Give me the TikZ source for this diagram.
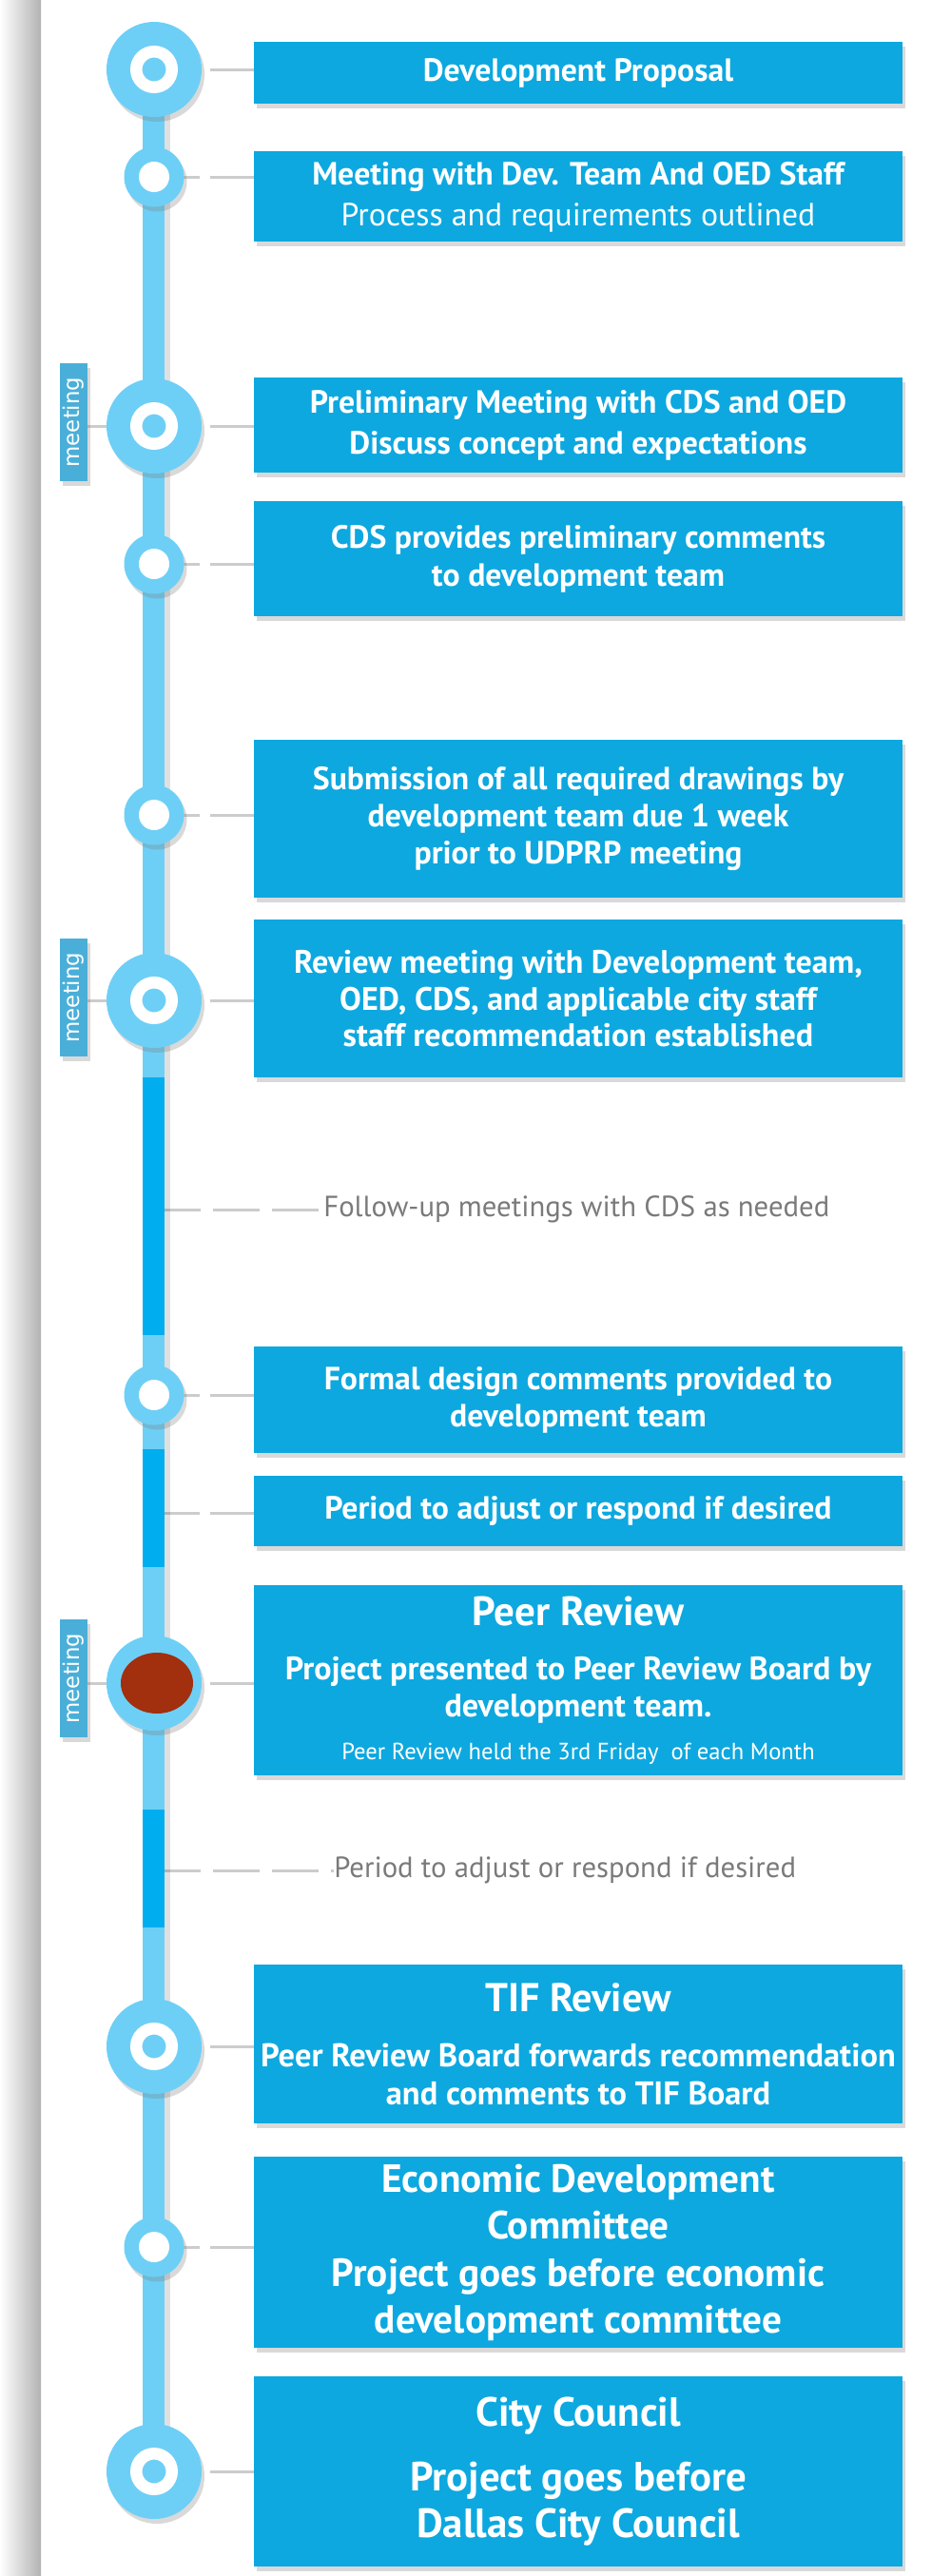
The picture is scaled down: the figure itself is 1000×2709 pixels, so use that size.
\documentclass[tikz,border=0pt]{standalone}
\usepackage{fontspec}
\setmainfont{PT Sans}
\newfontfamily\tagfont{DejaVu Sans}
\usetikzlibrary{positioning,shadows,backgrounds}

\definecolor{lineblue}{HTML}{6DCFF6}
\definecolor{pauseblue}{HTML}{00AEEF}
\definecolor{boxblue}{HTML}{0DA8DF}
\definecolor{tagblue}{HTML}{4AAFD8}
\definecolor{linkgray}{HTML}{CCCCCC}
\definecolor{notegray}{HTML}{7A7A7A}
\definecolor{peerred}{HTML}{A22F0E}

\newdimen\px \px=0.2mm

\begin{document}
\begin{tikzpicture}[
    x=0.2mm, y=-0.2mm,
    softshadow/.style={drop shadow={shadow xshift=3\px, shadow yshift=-5\px, opacity=.3}},
    bigstop/.style={circle, fill=lineblue, minimum size=100\px, inner sep=0pt, softshadow,
        path picture={\draw[white, line width=12.5\px] (path picture bounding box.center) circle[radius=18.75\px];}},
    smallstop/.style={circle, fill=lineblue, minimum size=63\px, inner sep=0pt, softshadow,
        path picture={\fill[white] (path picture bounding box.center) circle[radius=16\px];}},
    peerstop/.style={circle, fill=lineblue, minimum size=100\px, inner sep=0pt, softshadow,
        path picture={\fill[peerred] ([xshift=3\px]path picture bounding box.center) ellipse[x radius=38\px, y radius=32\px];}},
    stepbox/.style={fill=boxblue, text=white, align=center, anchor=north, minimum width=682\px,
        inner sep=0pt, font=\bfseries\fontsize{19.2}{23}\selectfont, softshadow},
    tag/.style={fill=tagblue, text=white, rotate=90, minimum width=124\px, minimum height=29\px,
        inner sep=0pt, font=\tagfont\fontsize{13}{13}\selectfont, softshadow},
    link/.style={draw=linkgray, line width=3\px, dash pattern=on 48\px off 11\px},
    leader/.style={draw=linkgray, line width=3\px, dash pattern=on 49\px off 13\px},
    note/.style={anchor=west, inner sep=0pt, text=notegray, font=\fontsize{17.5}{17.5}\selectfont},
]
    \useasboundingbox (0,0) rectangle (1000,2709);

    % Stops on the timeline
    \node[bigstop] (c1) at (162,73) {};
    \node[smallstop] (c2) at (162,186) {};
    \node[bigstop] (c3) at (162,448) {};
    \node[smallstop] (c4) at (162,593) {};
    \node[smallstop] (c5) at (162,857) {};
    \node[bigstop] (c6) at (162,1052) {};
    \node[smallstop] (c7) at (162,1467) {};
    \coordinate (c8) at (162,1591);
    \node[peerstop] (c9) at (162,1770) {};
    \node[bigstop] (c10) at (162,2152) {};
    \node[smallstop] (c11) at (162,2363) {};
    \node[bigstop] (c12) at (162,2599) {};

    % Steps
    \node[stepbox, minimum height=65\px] (b1) at (608,44) {Development Proposal};
    \node[stepbox, minimum height=95\px, font=\bfseries\fontsize{19.2}{24.5}\selectfont] (b2) at (608,159)
        {Meeting with Dev. Team And OED Staff\\{\mdseries Process and requirements outlined}};
    \node[stepbox, minimum height=100\px, font=\bfseries\fontsize{19.2}{24.5}\selectfont] (b3) at (608,397)
        {Preliminary Meeting with CDS and OED\\Discuss concept and expectations};
    \node[stepbox, minimum height=121\px] (b4) at (608,527)
        {CDS provides preliminary comments\\to development team};
    \node[stepbox, minimum height=166\px, font=\bfseries\fontsize{19.2}{22.2}\selectfont] (b5) at (608,778)
        {Submission of all required drawings by\\development team due 1 week\\prior to UDPRP meeting};
    \node[stepbox, minimum height=166\px, font=\bfseries\fontsize{19.4}{22}\selectfont] (b6) at (608,967)
        {Review meeting with Development team,\\OED, CDS, and applicable city staff\\staff recommendation established};
    \node[stepbox, minimum height=112\px, font=\bfseries\fontsize{19.2}{22}\selectfont] (b7) at (608,1416)
        {Formal design comments provided to\\development team};
    \node[stepbox, minimum height=74\px] (b8) at (608,1552) {Period to adjust or respond if desired};
    \node[stepbox, minimum height=200\px, font=\bfseries\fontsize{19.4}{22.2}\selectfont] (b9) at (608,1667)
        {{\fontsize{24.5}{22}\selectfont Peer Review}\\[10pt]
         Project presented to Peer Review Board by\\development team.\\[3.4pt]
         {\mdseries\fontsize{14}{14}\selectfont Peer Review held the 3rd Friday\ \ of each Month}};
    \node[stepbox, minimum height=167\px, font=\bfseries\fontsize{19.6}{22.8}\selectfont] (b10) at (608,2066)
        {{\fontsize{24}{22}\selectfont TIF Review}\\[10pt]
         Peer Review Board forwards recommendation\\and comments to TIF Board};
    \node[stepbox, minimum height=201\px, font=\bfseries\fontsize{23.5}{28.2}\selectfont] (b11) at (608,2268)
        {Economic Development\\Committee\\Project goes before economic\\development committee};
    \node[stepbox, minimum height=200\px, font=\bfseries\fontsize{24.4}{27.9}\selectfont] (b12) at (608,2499)
        {City Council\\[10.8pt]Project goes before\\Dallas City Council};

    % Meeting tags
    \node[tag] (t3) at (77.5,444) {meeting};
    \node[tag] (t6) at (77.5,1049) {meeting};
    \node[tag] (t9) at (77.5,1765) {meeting};

    % Notes between steps
    \node[note] (n1) at (340,1272) {Follow-up meetings with CDS as needed};
    \node[note] (n2) at (351,1967) {Period to adjust or respond if desired};
    \coordinate (d1) at (162,1272);
    \coordinate (d2) at (162,1967);

    \begin{scope}[on background layer]
        % page edge
        \shade[left color=white, right color=black!30] (0,0) rectangle (43,2709);

        % Connections to the steps
        \foreach \i in {1,...,12}
            \draw[link] (c\i.center) -- (c\i.center -| b\i.west);
        \draw[leader] (d1) -- (n1.west);
        \draw[leader] (d2) -- (n2.west);
        \foreach \i in {3,6,9}
            \draw[linkgray, line width=3\px] (c\i -| t\i.south) -- (c\i.center);

        % Timeline
        \fill[black, opacity=.12] (173,73) rectangle (179,2599);
        \fill[lineblue] (150,73) rectangle (173,2599);
        \fill[pauseblue] (150,1133) rectangle (173,1404);
        \fill[pauseblue] (150,1524) rectangle (173,1648);
        \fill[pauseblue] (150,1903) rectangle (173,2027);
    \end{scope}
\end{tikzpicture}
\end{document}
